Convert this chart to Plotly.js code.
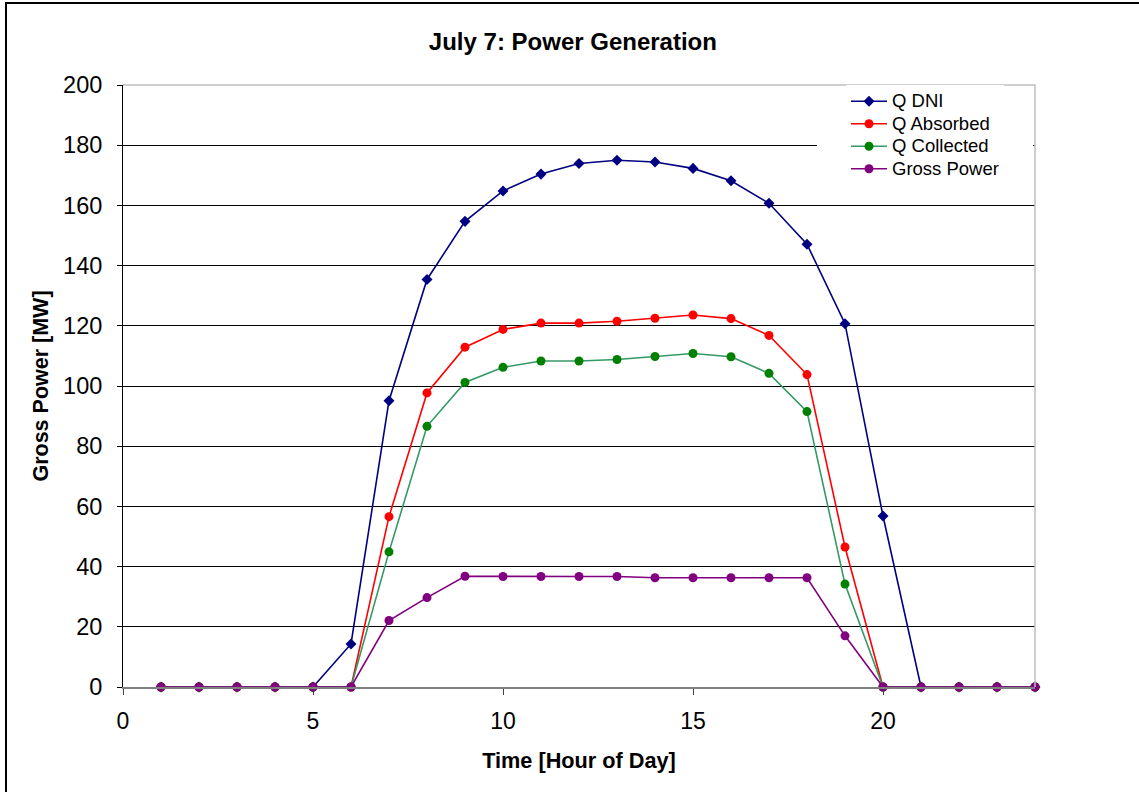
<!DOCTYPE html>
<html>
<head>
<meta charset="utf-8">
<script src="https://cdn.plot.ly/plotly-3.0.1.min.js"></script>
<style>
  html, body { margin: 0; padding: 0; background: #fff; overflow: hidden; }
  #chart { position: absolute; left: 0; top: 0; width: 1139px; height: 792px; }
  #frame { position: absolute; left: 5px; top: 2px; width: 1300px; height: 1000px;
           border-left: 2px solid #000; border-top: 2px solid #000; pointer-events: none; }
</style>
</head>
<body>
<div id="chart"></div>
<div id="frame"></div>
<script>
// Hour of day
const hours = [1,2,3,4,5,6,7,8,9,10,11,12,13,14,15,16,17,18,19,20,21,22,23,24];

// Power series [MW]
const qDNI       = [0,0,0,0,0,14.3,95.1,135.4,154.7,164.8,170.4,173.9,175.0,174.4,172.3,168.2,160.7,147.1,120.7,56.8,0,0,0,0];
const qAbsorbed  = [0,0,0,0,0,0,56.6,97.7,112.9,118.8,120.9,120.9,121.5,122.5,123.6,122.4,116.8,103.8,46.5,0,0,0,0,0];
const qCollected = [0,0,0,0,0,0,44.9,86.6,101.2,106.2,108.3,108.3,108.8,109.8,110.8,109.7,104.2,91.5,34.2,0,0,0,0,0];
const grossPower = [0,0,0,0,0,0,22.1,29.7,36.8,36.7,36.7,36.7,36.7,36.3,36.3,36.3,36.3,36.3,17.0,0,0,0,0,0];

const seriesNames = ['Q DNI', 'Q Absorbed', 'Q Collected', 'Gross Power'];

const FONT = 'Liberation Sans, Arial, Helvetica, sans-serif';

// legend rows are kept compact while the entry text stays at full size
function legendLabel(name) {
  return '<span style="font-size:18.5px">' + name + '</span>';
}

function series(name, y, lineColor, markerColor, symbol, size) {
  return {
    x: hours, y: y, name: legendLabel(name), type: 'scatter', mode: 'lines+markers',
    line: { color: lineColor, width: 1.6 },
    marker: { color: markerColor, symbol: symbol, size: size, line: { width: 0 } },
    cliponaxis: false
  };
}

const traces = [
  series(seriesNames[0], qDNI,       '#000080', '#000080', 'diamond', 8.5),
  series(seriesNames[1], qAbsorbed,  '#FF0000', '#FF0000', 'circle', 9),
  series(seriesNames[2], qCollected, '#339966', '#008000', 'circle', 9),
  series(seriesNames[3], grossPower, '#800080', '#800080', 'circle', 9)
];

const layout = {
  width: 1139, height: 792,
  margin: { l: 123, r: 104, t: 85, b: 105, pad: 0 },
  paper_bgcolor: '#ffffff', plot_bgcolor: '#ffffff',
  font: { family: FONT, color: '#000000' },
  title: {
    text: 'July 7: Power Generation',
    font: { family: FONT, size: 24, weight: 700, color: '#000' },
    xref: 'container', x: 0.503, xanchor: 'center',
    yref: 'container', y: 0.947, yanchor: 'middle'
  },
  xaxis: {
    range: [0, 24], dtick: 5, tick0: 0,
    showgrid: false, zeroline: false,
    showline: true, linecolor: '#808080', linewidth: 2,
    ticks: 'outside', ticklen: 6, tickcolor: '#404040', tickwidth: 1,
    tickfont: { family: FONT, size: 23, color: '#000' },
    ticklabelstandoff: 6,
    title: { text: 'Time [Hour of Day]', font: { family: FONT, size: 21.7, weight: 700 }, standoff: 20 }
  },
  yaxis: {
    range: [0, 200], dtick: 20, tick0: 0,
    showgrid: true, gridcolor: '#000000', gridwidth: 1,
    zeroline: false,
    showline: true, linecolor: '#000000', linewidth: 1,
    ticks: 'outside', ticklen: 5, tickcolor: '#000', tickwidth: 1,
    tickfont: { family: FONT, size: 23.5, color: '#000' },
    ticklabelstandoff: 10,
    title: { text: 'Gross Power [MW]', font: { family: FONT, size: 21.5, weight: 700 }, standoff: 8 }
  },
  legend: {
    x: (846 - 123) / 912, xanchor: 'left', y: 1, yanchor: 'top',
    bgcolor: '#ffffff', borderwidth: 0,
    font: { family: FONT, size: 15, color: '#000' },
    itemwidth: 36,
    tracegroupgap: 0
  },
  shapes: [
    // white legend box area behind the legend entries
    { type: 'rect', xref: 'paper', yref: 'paper',
      x0: (817 - 123) / 912, x1: (1033 - 123) / 912, y0: (687 - 190) / 602, y1: 0.997,
      fillcolor: '#ffffff', line: { width: 0 }, layer: 'above' },
    // plot area frame on the top and right edges
    { type: 'path', xref: 'paper', yref: 'paper', path: 'M0,1 L1,1 L1,0',
      line: { color: '#c0c0c0', width: 1.5 }, layer: 'above' }
  ],
  showlegend: true
};

Plotly.newPlot('chart', traces, layout, { staticPlot: true, displayModeBar: false });
</script>
</body>
</html>
